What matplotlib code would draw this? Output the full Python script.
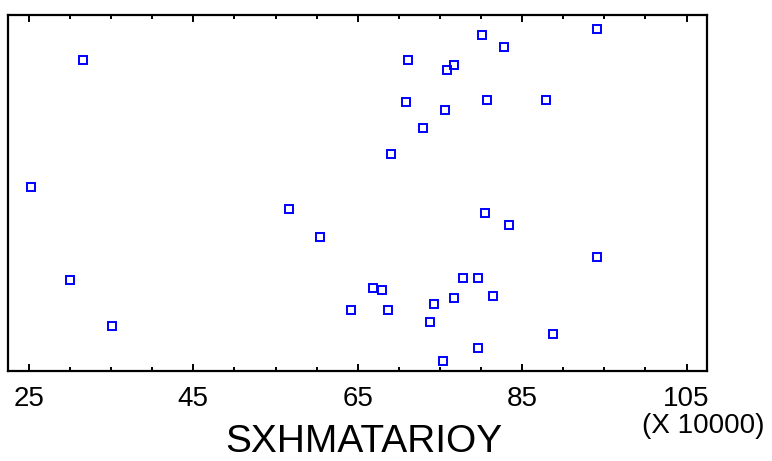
import matplotlib.pyplot as plt
from matplotlib.ticker import MultipleLocator

plt.rcParams['font.family'] = ['Liberation Sans', 'DejaVu Sans']

# SXHMATARIOY values (in units of 10000) and vertical jitter position
sxhmatarioy = [25.2, 31.6, 30.0, 35.1, 56.7, 60.4, 64.2, 66.8, 67.9, 68.7,
               69.0, 70.9, 71.1, 73.0, 73.8, 74.3, 75.4, 75.6, 75.9, 76.7,
               76.7, 77.8, 79.6, 79.6, 80.1, 80.7, 80.5, 81.5, 82.8, 83.4,
               87.9, 88.7, 94.1, 94.1]
jitter = [51.7, 87.4, 25.5, 12.5, 45.5, 37.5, 17.1, 23.3, 22.8, 17.1,
          60.8, 75.5, 87.4, 68.1, 13.7, 18.8, 2.8, 73.3, 84.6, 85.9,
          20.5, 26.1, 26.1, 6.3, 94.4, 76.1, 44.3, 21.0, 90.9, 41.0,
          76.1, 10.2, 96.0, 31.9]

fig = plt.figure(figsize=(7.72, 4.61), dpi=100)
ax = fig.add_axes([0.0108, 0.1959, 0.9046, 0.7716])

ax.plot(sxhmatarioy, jitter, linestyle='none', marker='s', markersize=6,
        markerfacecolor='none', markeredgecolor='#0000ff', markeredgewidth=1.4)

ax.set_xlim(22.5, 107.45)
ax.set_ylim(0, 100)
ax.xaxis.set_minor_locator(MultipleLocator(5))
ax.set_xticks([25, 45, 65, 85, 105])
ax.set_yticks([])
ax.tick_params(axis='x', which='both', direction='in', top=True, width=1.4,
               labelsize=20, pad=11)
ax.tick_params(axis='x', which='major', length=5)
ax.tick_params(axis='x', which='minor', length=3)
for s in ax.spines.values():
    s.set_linewidth(1.6)

fig.text(364 / 772, 1 - 452 / 461, 'SXHMATARIOY', fontsize=28,
         ha='center', va='baseline')
fig.text(764 / 772, 1 - 426 / 461, '(X 10000)', fontsize=20,
         ha='right', va='center')

fig.savefig('out.png', dpi=100)
